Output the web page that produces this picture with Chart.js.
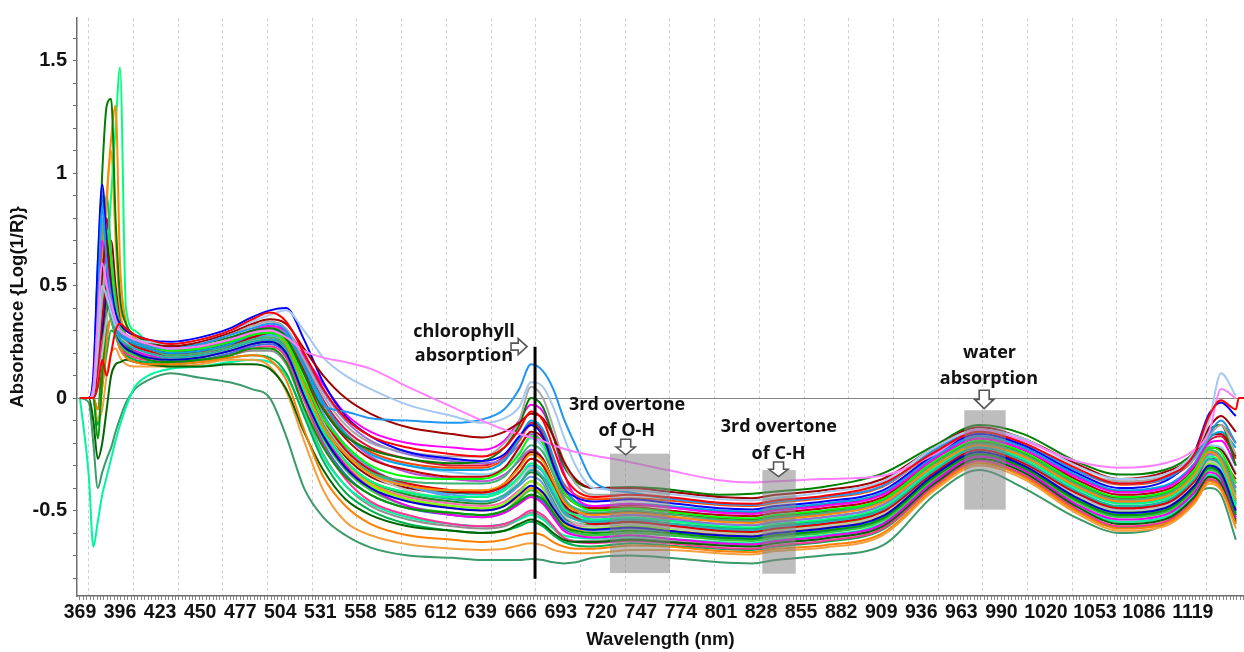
<!DOCTYPE html>
<html><head><meta charset="utf-8">
<script src="https://cdn.jsdelivr.net/npm/chart.js"></script>
<style>html,body{margin:0;padding:0;background:#fff;}canvas{display:block;}</style>
</head><body>
<canvas id="chart" width="1244" height="652" style="width:1244px;height:652px"></canvas>
<script>
// ---------- DATA ----------
const WAVELENGTHS = [369, 375, 378, 381, 384, 387, 390, 393, 396, 400, 406,
  415, 430, 450, 470, 485, 497, 508, 520, 533, 548, 565, 590, 620, 640, 655, 665, 673, 681, 688, 695, 703,
  715, 740, 765, 800, 822, 838, 870, 910, 945, 975, 1005, 1040, 1070, 1100, 1120, 1130, 1138, 1148, 1150, 1154];

const X_TICK_LABELS = [369, 396, 423, 450, 477, 504, 531, 558, 585, 612, 639, 666, 693, 720, 747,
  774, 801, 828, 855, 882, 909, 936, 963, 990, 1020, 1053, 1086, 1119];
const Y_TICK_LABELS = [-0.5, 0, 0.5, 1, 1.5];

const RED = [0, 0, 0, 0.05, 0.17, 0.10, 0.20, 0.30, 0.33, 0.31, 0.28,
  0.26, 0.24, 0.26, 0.30, 0.35, 0.38, 0.34, 0.20, 0.04, -0.09, -0.17, -0.22, -0.25, -0.26, -0.22, -0.14, -0.06, -0.10, -0.22, -0.34, -0.41,
  -0.44, -0.43, -0.44, -0.465, -0.47, -0.455, -0.435, -0.38, -0.24, -0.15, -0.20, -0.31, -0.38, -0.35, -0.25, -0.08, -0.01, -0.05, 0, 0];
const PINK = [0, 0, 0.05, 0.35, 0.60, 0.50, 0.42, 0.35, 0.30, 0.28, 0.26,
  0.24, 0.22, 0.23, 0.26, 0.29, 0.30, 0.27, 0.21, 0.18, 0.16, 0.13, 0.05, -0.04, -0.10, -0.14, -0.16, -0.175, -0.19, -0.21, -0.225, -0.24,
  -0.255, -0.285, -0.32, -0.365, -0.375, -0.37, -0.36, -0.345, -0.25, -0.14, -0.19, -0.28, -0.31, -0.29, -0.23, -0.15, 0.04, 0.0];
const LIGHTBLUE = [0, 0, 0.02, 0.25, 0.50, 0.45, 0.38, 0.32, 0.30, 0.28, 0.26,
  0.25, 0.24, 0.26, 0.30, 0.34, 0.37, 0.39, 0.30, 0.18, 0.10, 0.04, -0.03, -0.08, -0.11, -0.09, -0.04, 0.07, 0.05, -0.04, -0.17, -0.30,
  -0.40, -0.41, -0.425, -0.45, -0.455, -0.445, -0.42, -0.37, -0.22, -0.14, -0.18, -0.30, -0.36, -0.34, -0.24, -0.10, 0.11, 0.01];
const DODGERBLUE = [0, 0, 0.0, 0.40, 0.85, 0.60, 0.45, 0.34, 0.30, 0.27, 0.25,
  0.23, 0.22, 0.24, 0.28, 0.31, 0.33, 0.30, 0.14, -0.03, -0.06, -0.09, -0.10, -0.11, -0.095, -0.05, 0.04, 0.15, 0.12, 0.04, -0.09, -0.21,
  -0.37, -0.42, -0.445, -0.47, -0.475, -0.46, -0.44, -0.39, -0.23, -0.15, -0.20, -0.32, -0.38, -0.36, -0.26, -0.16, -0.10, -0.20];
const DARKRED = [0, 0, 0.03, 0.30, 0.55, 0.70, 0.45, 0.35, 0.30, 0.28, 0.26,
  0.24, 0.23, 0.25, 0.29, 0.33, 0.35, 0.33, 0.22, 0.10, 0.00, -0.07, -0.13, -0.16, -0.175, -0.15, -0.11, -0.07, -0.09, -0.17, -0.28, -0.36,
  -0.40, -0.40, -0.415, -0.44, -0.445, -0.43, -0.41, -0.36, -0.22, -0.13, -0.18, -0.29, -0.36, -0.33, -0.25, -0.13, -0.08, -0.15];
const BLUE = [0, 0, 0.10, 0.60, 0.95, 0.70, 0.50, 0.38, 0.33, 0.30, 0.28,
  0.26, 0.25, 0.27, 0.31, 0.36, 0.39, 0.40, 0.26, 0.07, -0.08, -0.17, -0.24, -0.27, -0.28, -0.25, -0.17, -0.12, -0.17, -0.30, -0.40, -0.44,
  -0.46, -0.45, -0.465, -0.49, -0.495, -0.48, -0.46, -0.41, -0.25, -0.16, -0.21, -0.33, -0.40, -0.37, -0.24, -0.07, -0.02, -0.08];
const GRAY = [0, 0, 0.02, 0.20, 0.45, 0.60, 0.50, 0.36, 0.30, 0.27, 0.25,
  0.24, 0.22, 0.24, 0.28, 0.32, 0.34, 0.31, 0.17, 0.01, -0.12, -0.20, -0.24, -0.26, -0.26, -0.20, -0.10, 0.05, 0.00, -0.13, -0.28, -0.38,
  -0.43, -0.43, -0.445, -0.47, -0.475, -0.46, -0.44, -0.39, -0.24, -0.15, -0.20, -0.32, -0.37, -0.35, -0.27, -0.17, -0.12, -0.25];
const GREEN = [0, 0, 0.05, 0.50, 1.00, 1.30, 1.33, 0.80, 0.45, 0.33, 0.28,
  0.25, 0.23, 0.24, 0.27, 0.30, 0.31, 0.27, 0.11, -0.05, -0.17, -0.23, -0.27, -0.29, -0.28, -0.22, -0.12, 0.00, -0.04, -0.17, -0.30, -0.37,
  -0.40, -0.395, -0.405, -0.43, -0.425, -0.415, -0.395, -0.335, -0.21, -0.12, -0.16, -0.28, -0.34, -0.32, -0.24, -0.14, -0.12, -0.30];
const MAGENTA = [0, 0, 0.05, 0.40, 0.70, 0.55, 0.42, 0.34, 0.30, 0.28, 0.26,
  0.24, 0.22, 0.23, 0.26, 0.30, 0.32, 0.30, 0.19, 0.06, -0.07, -0.15, -0.20, -0.22, -0.23, -0.19, -0.10, -0.03, -0.06, -0.17, -0.33, -0.44,
  -0.48, -0.47, -0.485, -0.51, -0.515, -0.50, -0.48, -0.43, -0.27, -0.18, -0.23, -0.35, -0.42, -0.40, -0.30, -0.20, -0.19, -0.30];
const LIME = [0, 0, 0.02, 0.25, 0.50, 0.75, 0.60, 0.40, 0.32, 0.28, 0.25,
  0.23, 0.21, 0.22, 0.25, 0.28, 0.29, 0.25, 0.08, -0.09, -0.21, -0.30, -0.35, -0.36, -0.36, -0.32, -0.25, -0.17, -0.20, -0.31, -0.42, -0.47,
  -0.50, -0.49, -0.505, -0.53, -0.535, -0.52, -0.50, -0.45, -0.28, -0.19, -0.24, -0.37, -0.44, -0.42, -0.32, -0.22, -0.24, -0.38];
const ORANGE = [0, 0, 0.02, 0.30, 0.60, 0.90, 1.15, 1.30, 0.60, 0.34, 0.27,
  0.24, 0.22, 0.23, 0.26, 0.29, 0.30, 0.24, 0.06, -0.13, -0.25, -0.34, -0.39, -0.41, -0.41, -0.38, -0.31, -0.25, -0.28, -0.37, -0.46, -0.50,
  -0.52, -0.51, -0.525, -0.55, -0.555, -0.54, -0.52, -0.465, -0.30, -0.21, -0.26, -0.39, -0.46, -0.44, -0.34, -0.24, -0.28, -0.45];
const DEEPSKYBLUE = [0, 0, 0.10, 0.55, 0.90, 0.60, 0.40, 0.32, 0.28, 0.26, 0.24,
  0.22, 0.20, 0.21, 0.24, 0.28, 0.30, 0.28, 0.15, -0.02, -0.16, -0.25, -0.30, -0.32, -0.32, -0.28, -0.18, -0.10, -0.14, -0.26, -0.39, -0.46,
  -0.48, -0.47, -0.48, -0.50, -0.505, -0.49, -0.47, -0.42, -0.26, -0.17, -0.22, -0.34, -0.41, -0.39, -0.29, -0.18, -0.15, -0.22];
const DARKRED2 = [0, 0, 0.0, 0.15, 0.35, 0.50, 0.45, 0.36, 0.30, 0.27, 0.24,
  0.22, 0.20, 0.21, 0.24, 0.27, 0.29, 0.26, 0.12, -0.05, -0.18, -0.27, -0.32, -0.35, -0.35, -0.31, -0.22, -0.15, -0.18, -0.30, -0.42, -0.47,
  -0.49, -0.485, -0.50, -0.52, -0.525, -0.51, -0.49, -0.44, -0.27, -0.18, -0.23, -0.36, -0.43, -0.41, -0.31, -0.17, -0.16, -0.26];
const SEAGREEN = [0, 0, 0.03, 0.35, 0.70, 0.90, 0.65, 0.45, 0.33, 0.28, 0.24,
  0.22, 0.19, 0.20, 0.23, 0.26, 0.27, 0.23, 0.06, -0.12, -0.25, -0.33, -0.37, -0.38, -0.38, -0.35, -0.27, -0.21, -0.24, -0.34, -0.45, -0.49,
  -0.51, -0.50, -0.515, -0.54, -0.545, -0.53, -0.51, -0.455, -0.29, -0.20, -0.25, -0.38, -0.45, -0.43, -0.33, -0.23, -0.26, -0.42];
const PURPLE = [0, 0, 0.02, 0.20, 0.45, 0.55, 0.45, 0.35, 0.30, 0.27, 0.25,
  0.23, 0.21, 0.22, 0.25, 0.29, 0.31, 0.29, 0.18, 0.03, -0.10, -0.19, -0.25, -0.28, -0.29, -0.27, -0.21, -0.16, -0.20, -0.31, -0.44, -0.50,
  -0.53, -0.52, -0.535, -0.56, -0.565, -0.55, -0.53, -0.475, -0.30, -0.21, -0.26, -0.39, -0.46, -0.44, -0.34, -0.25, -0.27, -0.40];
const SPRINGGREEN = [0, 0, 0.02, 0.20, 0.40, 0.60, 0.90, 1.20, 1.47, 0.40, 0.30,
  0.25, 0.22, 0.22, 0.25, 0.28, 0.29, 0.24, 0.04, -0.15, -0.28, -0.37, -0.42, -0.44, -0.44, -0.41, -0.35, -0.29, -0.32, -0.40, -0.49, -0.52,
  -0.54, -0.53, -0.545, -0.57, -0.575, -0.56, -0.54, -0.485, -0.31, -0.21, -0.27, -0.40, -0.47, -0.45, -0.35, -0.26, -0.29, -0.48];
const TEAL = [0, 0, 0.05, 0.40, 0.65, 0.50, 0.38, 0.30, 0.26, 0.24, 0.22,
  0.20, 0.18, 0.19, 0.22, 0.25, 0.26, 0.22, 0.04, -0.14, -0.28, -0.37, -0.42, -0.45, -0.46, -0.43, -0.38, -0.32, -0.35, -0.43, -0.51, -0.54,
  -0.55, -0.54, -0.555, -0.58, -0.585, -0.57, -0.55, -0.495, -0.32, -0.22, -0.28, -0.41, -0.48, -0.46, -0.36, -0.27, -0.30, -0.47];
const BLUE2 = [0, 0, 0.05, 0.20, 0.30, 0.45, 0.38, 0.30, 0.25, 0.22, 0.20,
  0.18, 0.17, 0.18, 0.21, 0.24, 0.25, 0.20, 0.01, -0.17, -0.31, -0.40, -0.46, -0.49, -0.50, -0.48, -0.43, -0.39, -0.42, -0.49, -0.55, -0.575,
  -0.585, -0.575, -0.59, -0.61, -0.615, -0.60, -0.58, -0.525, -0.34, -0.24, -0.30, -0.44, -0.51, -0.49, -0.39, -0.30, -0.33, -0.50];
const RED2 = [0, 0, 0.03, 0.35, 0.60, 0.80, 0.55, 0.38, 0.30, 0.26, 0.23,
  0.21, 0.19, 0.20, 0.23, 0.27, 0.29, 0.26, 0.11, -0.09, -0.23, -0.32, -0.38, -0.41, -0.42, -0.39, -0.33, -0.27, -0.30, -0.39, -0.49, -0.53,
  -0.56, -0.55, -0.565, -0.59, -0.595, -0.58, -0.56, -0.505, -0.33, -0.23, -0.29, -0.42, -0.49, -0.47, -0.37, -0.27, -0.28, -0.36];
const GRAY2 = [0, 0, 0.0, 0.05, 0.20, 0.35, 0.40, 0.34, 0.28, 0.25, 0.22,
  0.20, 0.18, 0.19, 0.22, 0.25, 0.27, 0.24, 0.09, -0.10, -0.24, -0.34, -0.41, -0.45, -0.46, -0.43, -0.36, -0.31, -0.35, -0.44, -0.52, -0.555,
  -0.57, -0.56, -0.575, -0.60, -0.605, -0.59, -0.57, -0.515, -0.33, -0.23, -0.29, -0.43, -0.50, -0.48, -0.38, -0.28, -0.31, -0.44];
const GREEN2 = [0, 0, 0.0, -0.18, 0.10, 0.35, 0.50, 0.40, 0.30, 0.24, 0.20,
  0.17, 0.16, 0.17, 0.19, 0.22, 0.22, 0.16, -0.04, -0.22, -0.35, -0.43, -0.49, -0.51, -0.52, -0.50, -0.46, -0.43, -0.45, -0.51, -0.57, -0.59,
  -0.60, -0.59, -0.60, -0.62, -0.625, -0.61, -0.59, -0.535, -0.35, -0.25, -0.31, -0.45, -0.52, -0.50, -0.40, -0.31, -0.34, -0.52];
const MAGENTA2 = [0, 0, 0.02, 0.15, 0.35, 0.50, 0.40, 0.32, 0.26, 0.23, 0.21,
  0.19, 0.18, 0.19, 0.21, 0.24, 0.26, 0.22, 0.04, -0.16, -0.30, -0.40, -0.48, -0.52, -0.53, -0.51, -0.47, -0.44, -0.47, -0.53, -0.59, -0.61,
  -0.62, -0.61, -0.625, -0.645, -0.65, -0.635, -0.615, -0.56, -0.37, -0.26, -0.32, -0.47, -0.54, -0.52, -0.42, -0.33, -0.36, -0.53];
const LIME2 = [0, 0, 0.05, 0.30, 0.55, 0.45, 0.35, 0.28, 0.24, 0.21, 0.19,
  0.18, 0.17, 0.18, 0.21, 0.24, 0.25, 0.20, 0.01, -0.18, -0.32, -0.41, -0.48, -0.51, -0.52, -0.50, -0.45, -0.41, -0.44, -0.51, -0.57, -0.60,
  -0.61, -0.60, -0.61, -0.63, -0.635, -0.62, -0.60, -0.545, -0.36, -0.26, -0.32, -0.46, -0.53, -0.51, -0.41, -0.32, -0.35, -0.50];
const ORANGE2 = [0, 0, 0.0, -0.05, 0.05, 0.25, 0.35, 0.30, 0.22, 0.18, 0.16,
  0.15, 0.15, 0.16, 0.18, 0.19, 0.17, 0.08, -0.14, -0.35, -0.48, -0.56, -0.61, -0.63, -0.64, -0.63, -0.61, -0.60, -0.61, -0.64, -0.66, -0.67,
  -0.67, -0.655, -0.66, -0.68, -0.685, -0.67, -0.655, -0.60, -0.40, -0.29, -0.35, -0.50, -0.58, -0.56, -0.46, -0.37, -0.40, -0.56];
const SKYBLUE = [0, 0, 0.05, 0.50, 0.80, 0.55, 0.40, 0.30, 0.26, 0.23, 0.21,
  0.19, 0.18, 0.19, 0.22, 0.26, 0.28, 0.25, 0.10, -0.08, -0.22, -0.32, -0.39, -0.43, -0.44, -0.41, -0.35, -0.30, -0.33, -0.42, -0.50, -0.54,
  -0.555, -0.545, -0.56, -0.585, -0.59, -0.575, -0.555, -0.50, -0.32, -0.22, -0.28, -0.42, -0.49, -0.47, -0.37, -0.27, -0.29, -0.40];
const DARKGREEN = [0, 0, -0.10, -0.27, -0.20, -0.05, 0.10, 0.15, 0.16, 0.17, 0.16,
  0.15, 0.14, 0.14, 0.15, 0.15, 0.13, 0.04, -0.15, -0.32, -0.45, -0.52, -0.57, -0.59, -0.60, -0.59, -0.56, -0.54, -0.56, -0.60, -0.63, -0.64,
  -0.64, -0.63, -0.64, -0.655, -0.66, -0.645, -0.625, -0.57, -0.38, -0.27, -0.33, -0.48, -0.56, -0.54, -0.44, -0.35, -0.38, -0.55];
const HOTPINK = [0, 0, 0.02, 0.10, 0.30, 0.40, 0.35, 0.28, 0.22, 0.20, 0.18,
  0.17, 0.16, 0.17, 0.19, 0.22, 0.23, 0.18, -0.01, -0.21, -0.36, -0.46, -0.52, -0.56, -0.57, -0.56, -0.53, -0.50, -0.52, -0.57, -0.62, -0.64,
  -0.645, -0.635, -0.645, -0.665, -0.67, -0.655, -0.635, -0.58, -0.39, -0.28, -0.34, -0.49, -0.57, -0.55, -0.45, -0.36, -0.39, -0.54];
const CORNFLOWER = [0, 0, 0.02, 0.30, 0.60, 0.70, 0.50, 0.35, 0.28, 0.24, 0.22,
  0.20, 0.19, 0.20, 0.23, 0.26, 0.28, 0.25, 0.11, -0.07, -0.21, -0.31, -0.39, -0.44, -0.46, -0.44, -0.39, -0.35, -0.38, -0.47, -0.54, -0.575,
  -0.59, -0.58, -0.595, -0.615, -0.62, -0.605, -0.585, -0.53, -0.345, -0.245, -0.305, -0.445, -0.515, -0.495, -0.395, -0.30, -0.32, -0.45];
const ORANGE3 = [0, 0, 0.0, -0.10, -0.05, 0.10, 0.20, 0.22, 0.18, 0.15, 0.14,
  0.14, 0.14, 0.15, 0.17, 0.17, 0.14, 0.03, -0.19, -0.41, -0.55, -0.61, -0.65, -0.67, -0.675, -0.67, -0.655, -0.645, -0.655, -0.675, -0.685, -0.69,
  -0.69, -0.675, -0.675, -0.69, -0.695, -0.68, -0.665, -0.61, -0.41, -0.30, -0.36, -0.51, -0.59, -0.57, -0.47, -0.38, -0.41, -0.58];
const GREEN3 = [0, 0, 0.0, -0.12, 0.05, 0.20, 0.30, 0.28, 0.22, 0.19, 0.17,
  0.16, 0.15, 0.16, 0.18, 0.19, 0.18, 0.11, -0.08, -0.28, -0.42, -0.50, -0.56, -0.59, -0.60, -0.59, -0.57, -0.55, -0.57, -0.61, -0.64, -0.655,
  -0.66, -0.645, -0.655, -0.67, -0.675, -0.66, -0.64, -0.585, -0.39, -0.28, -0.345, -0.495, -0.575, -0.555, -0.455, -0.365, -0.395, -0.56];
const SPRINGGREEN_LOW = [0, -0.35, -0.66, -0.55, -0.43, -0.35, -0.27, -0.19, -0.12, -0.04, 0.05,
  0.10, 0.13, 0.14, 0.16, 0.17, 0.16, 0.10, -0.07, -0.26, -0.39, -0.47, -0.53, -0.56, -0.57, -0.56, -0.54, -0.52, -0.54, -0.58, -0.61, -0.62,
  -0.625, -0.615, -0.625, -0.64, -0.645, -0.63, -0.61, -0.555, -0.365, -0.265, -0.33, -0.475, -0.55, -0.53, -0.43, -0.34, -0.37, -0.52];
const SEAGREEN_LOW = [0, -0.02, -0.20, -0.40, -0.33, -0.27, -0.22, -0.15, -0.09, -0.02, 0.04,
  0.08, 0.11, 0.09, 0.07, 0.04, 0.00, -0.17, -0.40, -0.53, -0.61, -0.665, -0.70, -0.71, -0.72, -0.72, -0.72, -0.715, -0.72, -0.73, -0.735, -0.73,
  -0.71, -0.70, -0.71, -0.73, -0.735, -0.72, -0.70, -0.655, -0.43, -0.32, -0.40, -0.53, -0.60, -0.56, -0.43, -0.40, -0.43, -0.63];
const ORANGERED = [0, 0, 0.03, 0.45, 0.80, 0.60, 0.45, 0.35, 0.30, 0.27, 0.25,
  0.23, 0.21, 0.22, 0.26, 0.30, 0.32, 0.29, 0.13, -0.04, -0.16, -0.24, -0.29, -0.31, -0.31, -0.27, -0.19, -0.12, -0.16, -0.28, -0.38, -0.43,
  -0.45, -0.445, -0.455, -0.475, -0.48, -0.465, -0.445, -0.395, -0.24, -0.155, -0.205, -0.32, -0.385, -0.36, -0.27, -0.15, -0.12, -0.20];
const DARKRED3 = [0, 0, 0.0, 0.10, 0.30, 0.55, 0.70, 0.50, 0.34, 0.28, 0.24,
  0.22, 0.20, 0.21, 0.24, 0.27, 0.28, 0.24, 0.07, -0.12, -0.26, -0.35, -0.40, -0.42, -0.42, -0.38, -0.30, -0.24, -0.27, -0.37, -0.47, -0.51,
  -0.515, -0.505, -0.515, -0.535, -0.54, -0.525, -0.505, -0.45, -0.285, -0.195, -0.245, -0.375, -0.445, -0.425, -0.325, -0.22, -0.23, -0.34];
const TURQUOISE = [0, 0, 0.05, 0.60, 0.90, 0.55, 0.40, 0.32, 0.27, 0.25, 0.23,
  0.21, 0.19, 0.20, 0.23, 0.26, 0.28, 0.25, 0.09, -0.10, -0.24, -0.33, -0.39, -0.42, -0.43, -0.40, -0.33, -0.27, -0.30, -0.40, -0.49, -0.53,
  -0.545, -0.535, -0.545, -0.56, -0.565, -0.55, -0.53, -0.475, -0.30, -0.205, -0.26, -0.395, -0.465, -0.445, -0.345, -0.25, -0.27, -0.43];
const LAWNGREEN = [0, 0, 0.02, 0.30, 0.55, 0.65, 0.50, 0.36, 0.28, 0.24, 0.21,
  0.19, 0.17, 0.18, 0.21, 0.24, 0.25, 0.21, 0.03, -0.16, -0.30, -0.39, -0.45, -0.48, -0.49, -0.47, -0.42, -0.37, -0.40, -0.48, -0.55, -0.575,
  -0.58, -0.57, -0.58, -0.595, -0.60, -0.585, -0.565, -0.51, -0.33, -0.235, -0.295, -0.435, -0.505, -0.485, -0.385, -0.29, -0.32, -0.47];
const ORCHID = [0, 0, 0.02, 0.20, 0.40, 0.50, 0.42, 0.34, 0.29, 0.26, 0.24,
  0.22, 0.20, 0.21, 0.24, 0.28, 0.30, 0.28, 0.15, -0.02, -0.16, -0.26, -0.33, -0.36, -0.37, -0.34, -0.28, -0.23, -0.27, -0.38, -0.48, -0.52,
  -0.53, -0.52, -0.53, -0.545, -0.55, -0.535, -0.515, -0.46, -0.29, -0.20, -0.25, -0.385, -0.455, -0.435, -0.335, -0.24, -0.26, -0.38];
const ROYALBLUE = [0, 0, 0.05, 0.35, 0.60, 0.45, 0.35, 0.28, 0.24, 0.21, 0.19,
  0.18, 0.16, 0.17, 0.20, 0.23, 0.24, 0.19, 0.00, -0.20, -0.34, -0.43, -0.49, -0.52, -0.53, -0.51, -0.47, -0.43, -0.46, -0.52, -0.58, -0.60,
  -0.61, -0.60, -0.61, -0.625, -0.63, -0.615, -0.595, -0.54, -0.355, -0.255, -0.315, -0.455, -0.525, -0.505, -0.405, -0.315, -0.345, -0.51];
const ORANGE4 = [0, 0, 0.0, 0.10, 0.40, 0.85, 1.10, 0.70, 0.40, 0.28, 0.22,
  0.19, 0.18, 0.19, 0.22, 0.25, 0.26, 0.22, 0.05, -0.15, -0.29, -0.38, -0.45, -0.49, -0.50, -0.48, -0.44, -0.40, -0.43, -0.50, -0.56, -0.585,
  -0.59, -0.58, -0.59, -0.605, -0.61, -0.595, -0.575, -0.52, -0.34, -0.24, -0.30, -0.44, -0.51, -0.49, -0.39, -0.30, -0.33, -0.49];
const FORESTGREEN = [0, 0, 0.0, -0.05, 0.20, 0.45, 0.60, 0.45, 0.32, 0.25, 0.22,
  0.20, 0.18, 0.19, 0.22, 0.25, 0.26, 0.22, 0.05, -0.14, -0.28, -0.37, -0.43, -0.46, -0.47, -0.44, -0.38, -0.33, -0.36, -0.45, -0.53, -0.555,
  -0.565, -0.555, -0.56, -0.575, -0.58, -0.565, -0.545, -0.49, -0.315, -0.22, -0.28, -0.415, -0.485, -0.465, -0.365, -0.275, -0.30, -0.46];
const CRIMSON = [0, 0, 0.02, 0.30, 0.65, 0.75, 0.50, 0.36, 0.30, 0.27, 0.25,
  0.23, 0.21, 0.22, 0.25, 0.29, 0.31, 0.29, 0.16, -0.01, -0.14, -0.22, -0.27, -0.30, -0.30, -0.26, -0.18, -0.11, -0.15, -0.28, -0.40, -0.46,
  -0.485, -0.475, -0.485, -0.505, -0.51, -0.495, -0.475, -0.425, -0.26, -0.17, -0.22, -0.345, -0.415, -0.395, -0.295, -0.19, -0.17, -0.27];
const LIGHTSKYBLUE = [0, 0, 0.05, 0.40, 0.70, 0.55, 0.40, 0.32, 0.28, 0.26, 0.24,
  0.22, 0.20, 0.21, 0.24, 0.28, 0.30, 0.28, 0.16, -0.01, -0.15, -0.24, -0.30, -0.33, -0.34, -0.31, -0.24, -0.18, -0.22, -0.33, -0.44, -0.49,
  -0.50, -0.49, -0.50, -0.52, -0.525, -0.51, -0.49, -0.44, -0.27, -0.18, -0.23, -0.36, -0.43, -0.41, -0.31, -0.21, -0.22, -0.33];
const HOTPINK2 = [0, 0, 0.02, 0.15, 0.35, 0.45, 0.40, 0.32, 0.27, 0.24, 0.21,
  0.19, 0.18, 0.19, 0.21, 0.24, 0.26, 0.23, 0.06, -0.14, -0.29, -0.38, -0.44, -0.47, -0.48, -0.46, -0.41, -0.37, -0.40, -0.48, -0.54, -0.565,
  -0.57, -0.56, -0.57, -0.585, -0.59, -0.575, -0.555, -0.50, -0.325, -0.23, -0.29, -0.425, -0.495, -0.475, -0.375, -0.28, -0.31, -0.45];
const GRAY3 = [0, 0, 0.0, 0.05, 0.15, 0.30, 0.35, 0.30, 0.24, 0.20, 0.18,
  0.17, 0.16, 0.17, 0.19, 0.21, 0.21, 0.15, -0.05, -0.25, -0.39, -0.48, -0.54, -0.57, -0.58, -0.57, -0.54, -0.51, -0.53, -0.58, -0.62, -0.635,
  -0.635, -0.625, -0.635, -0.65, -0.655, -0.64, -0.62, -0.565, -0.375, -0.27, -0.33, -0.475, -0.55, -0.53, -0.43, -0.345, -0.375, -0.54];

const SERIES = [
  { name: 'Sample 1',  values: RED },
  { name: 'Sample 2',  values: PINK },
  { name: 'Sample 3',  values: LIGHTBLUE },
  { name: 'Sample 4',  values: DODGERBLUE },
  { name: 'Sample 5',  values: DARKRED },
  { name: 'Sample 6',  values: BLUE },
  { name: 'Sample 7',  values: GRAY },
  { name: 'Sample 8',  values: GREEN },
  { name: 'Sample 9',  values: MAGENTA },
  { name: 'Sample 10', values: LIME },
  { name: 'Sample 11', values: ORANGE },
  { name: 'Sample 12', values: DEEPSKYBLUE },
  { name: 'Sample 13', values: DARKRED2 },
  { name: 'Sample 14', values: SEAGREEN },
  { name: 'Sample 15', values: PURPLE },
  { name: 'Sample 16', values: SPRINGGREEN },
  { name: 'Sample 17', values: TEAL },
  { name: 'Sample 18', values: BLUE2 },
  { name: 'Sample 19', values: RED2 },
  { name: 'Sample 20', values: GRAY2 },
  { name: 'Sample 21', values: GREEN2 },
  { name: 'Sample 22', values: MAGENTA2 },
  { name: 'Sample 23', values: LIME2 },
  { name: 'Sample 24', values: ORANGE2 },
  { name: 'Sample 25', values: SKYBLUE },
  { name: 'Sample 26', values: DARKGREEN },
  { name: 'Sample 27', values: HOTPINK },
  { name: 'Sample 28', values: CORNFLOWER },
  { name: 'Sample 29', values: ORANGE3 },
  { name: 'Sample 30', values: GREEN3 },
  { name: 'Sample 31', values: SPRINGGREEN_LOW },
  { name: 'Sample 32', values: SEAGREEN_LOW },
  { name: 'Sample 33', values: ORANGERED },
  { name: 'Sample 34', values: DARKRED3 },
  { name: 'Sample 35', values: TURQUOISE },
  { name: 'Sample 36', values: LAWNGREEN },
  { name: 'Sample 37', values: ORCHID },
  { name: 'Sample 38', values: ROYALBLUE },
  { name: 'Sample 39', values: ORANGE4 },
  { name: 'Sample 40', values: FORESTGREEN },
  { name: 'Sample 41', values: CRIMSON },
  { name: 'Sample 42', values: LIGHTSKYBLUE },
  { name: 'Sample 43', values: HOTPINK2 },
  { name: 'Sample 44', values: GRAY3 }
];

// ---------- STYLE ----------
const LINE_COLORS = ['#ff0000', '#ff80ff', '#a6c8f0', '#1e96f0', '#a00000', '#0000ff', '#a9a9a9', '#008000',
  '#ff00ff', '#00ff00', '#ff8c00', '#00a2e8', '#c00000', '#3cb371', '#9370db', '#00ff7f',
  '#20b2aa', '#0000cd', '#e00000', '#c0c0c0', '#009900', '#ee00ee', '#32cd32', '#ff7f00',
  '#48a8f0', '#006400', '#ff3399', '#6495ed', '#f4a040', '#00b050', '#00f5a0', '#3a9a6a',
  '#ff4500', '#8b0000', '#00ced1', '#7cfc00', '#ba55d3', '#4169e1', '#ffa500', '#228b22',
  '#dc143c', '#87cefa', '#ff69b4', '#909090'];

const X_MIN = 367, X_MAX = 1153.5, Y_MIN = -0.88, Y_MAX = 1.69;

// annotation positions in data units
const CHL_MARKER = { nm: 675.7, top: 0.228, bottom: -0.803 };
const SHADED_BANDS = [
  { nm0: 726.2, nm1: 766.7, top: -0.247, bottom: -0.778 },
  { nm0: 828.9, nm1: 851.4, top: -0.320, bottom: -0.781 },
  { nm0: 965.0, nm1: 992.9, top: -0.054, bottom: -0.496 }
];
const NOTES = [
  { text: 'chlorophyll', nm: 627.8, y: 0.295 },
  { text: 'absorption', nm: 627.8, y: 0.186 },
  { text: '3rd overtone', nm: 737.7, y: -0.028 },
  { text: 'of O-H', nm: 737.5, y: -0.145 },
  { text: '3rd overtone', nm: 840.0, y: -0.130 },
  { text: 'of C-H', nm: 839.8, y: -0.247 },
  { text: 'water', nm: 982.0, y: 0.199 },
  { text: 'absorption', nm: 981.6, y: 0.086 }
];
const ARROWS = [
  { dir: 'right', nm0: 659.5, nm1: 670.3, y: 0.229 },
  { dir: 'down', nm: 736.8, y0: -0.183, y1: -0.252 },
  { dir: 'down', nm: 839.8, y0: -0.284, y1: -0.349 },
  { dir: 'down', nm: 978.4, y0: 0.035, y1: -0.047 }
];

// decorative tick/grid positions
const X_GRID = []; for (let k = 0; k <= 25; k++) X_GRID.push(374.9 + k * 30.13);
const X_MINOR = []; for (let v = 369; v <= X_MAX; v += 2.3) X_MINOR.push(v);
const Y_MINOR = []; for (let k = -8; k <= 16; k++) Y_MINOR.push(k / 10);

const FONT_FAMILY = '"Liberation Sans", Arial, sans-serif';

const annotationPlugin = {
  id: 'annotations',
  afterDatasetsDraw(chart) {
    const { ctx } = chart; const xs = chart.scales.x, ys = chart.scales.y;
    ctx.save();
    ctx.fillStyle = 'rgba(135,135,135,0.55)';
    for (const b of SHADED_BANDS) {
      const x0 = xs.getPixelForValue(b.nm0), x1 = xs.getPixelForValue(b.nm1);
      const y0 = ys.getPixelForValue(b.top), y1 = ys.getPixelForValue(b.bottom);
      ctx.fillRect(x0, y0, x1 - x0, y1 - y0);
    }
    ctx.lineWidth = 1.6; ctx.strokeStyle = '#555'; ctx.fillStyle = '#fff'; ctx.lineJoin = 'miter';
    for (const a of ARROWS) {
      ctx.beginPath();
      if (a.dir === 'down') {
        const cx = xs.getPixelForValue(a.nm), t = ys.getPixelForValue(a.y0), b = ys.getPixelForValue(a.y1);
        const m = t + (b - t) * 0.5;
        ctx.moveTo(cx - 5, t); ctx.lineTo(cx + 5, t); ctx.lineTo(cx + 5, m); ctx.lineTo(cx + 9.5, m);
        ctx.lineTo(cx, b); ctx.lineTo(cx - 9.5, m); ctx.lineTo(cx - 5, m); ctx.closePath();
      } else {
        const l = xs.getPixelForValue(a.nm0), r = xs.getPixelForValue(a.nm1), cy = ys.getPixelForValue(a.y);
        const m = l + (r - l) * 0.45;
        ctx.moveTo(l, cy - 3.5); ctx.lineTo(m, cy - 3.5); ctx.lineTo(m, cy - 8); ctx.lineTo(r, cy);
        ctx.lineTo(m, cy + 8); ctx.lineTo(m, cy + 3.5); ctx.lineTo(l, cy + 3.5); ctx.closePath();
      }
      ctx.fill(); ctx.stroke();
    }
    ctx.fillStyle = '#111'; ctx.font = 'bold 18px "Open Sans", "DejaVu Sans", sans-serif';
    ctx.textAlign = 'center'; ctx.textBaseline = 'middle';
    for (const n of NOTES) ctx.fillText(n.text, xs.getPixelForValue(n.nm), ys.getPixelForValue(n.y));
    ctx.restore();
  }
};

const datasets = SERIES.map((s, i) => ({
  label: s.name,
  data: s.values.map((v, j) => ({ x: WAVELENGTHS[j], y: v })),
  borderColor: LINE_COLORS[i], borderWidth: 2, pointRadius: 0, fill: false,
  cubicInterpolationMode: 'monotone', xAxisID: 'x', yAxisID: 'y'
}));
datasets.unshift({
  label: 'marker', order: -1,
  data: [{ x: CHL_MARKER.nm, y: CHL_MARKER.top }, { x: CHL_MARKER.nm, y: CHL_MARKER.bottom }],
  borderColor: '#000', borderWidth: 3, pointRadius: 0, fill: false, xAxisID: 'x', yAxisID: 'y'
});

const hiddenBottom = (ticksArr, grid, border) => ({
  type: 'linear', min: X_MIN, max: X_MAX, position: 'bottom', weight: 0,
  afterBuildTicks: s => { s.ticks = ticksArr.map(v => ({ value: v })); },
  afterFit: s => { s.height = 0; },
  ticks: { display: false, autoSkip: false },
  grid, border
});

new Chart(document.getElementById('chart'), {
  type: 'line',
  data: { datasets },
  plugins: [annotationPlugin],
  options: {
    responsive: false, animation: false, devicePixelRatio: 1, events: [],
    layout: { padding: { top: 10, right: 0, bottom: 0, left: 0 } },
    plugins: { legend: { display: false }, tooltip: { enabled: false } },
    scales: {
      x: {
        type: 'linear', min: X_MIN, max: X_MAX, position: 'bottom', weight: 5,
        afterBuildTicks: s => { s.ticks = X_TICK_LABELS.map(v => ({ value: v })); },
        afterFit: s => { s.height = 56; },
        ticks: { autoSkip: false, maxRotation: 0, minRotation: 0, padding: 5, color: '#111',
          font: { family: FONT_FAMILY, size: 19.5, weight: 'bold' }, callback: v => String(v) },
        grid: { display: true, drawOnChartArea: false, drawTicks: false },
        border: { display: true, color: '#6e6e6e', width: 1.5 },
        title: { display: true, text: 'Wavelength (nm)', color: '#111', padding: { top: 0, bottom: 1 },
          font: { family: FONT_FAMILY, size: 18.5, weight: 'bold' } }
      },
      xGrid: hiddenBottom(X_GRID,
        { display: true, drawOnChartArea: true, drawTicks: false, color: '#cfcfcf', lineWidth: 1 },
        { display: false, dash: [3, 3] }),
      xMinor: hiddenBottom(X_MINOR,
        { display: true, drawOnChartArea: false, drawTicks: true, tickLength: 4, tickColor: '#8a8a8a', lineWidth: 1 },
        { display: false }),
      y: {
        type: 'linear', min: Y_MIN, max: Y_MAX, position: 'left',
        afterBuildTicks: s => { s.ticks = Y_MINOR.map(v => ({ value: v })); },
        afterFit: s => { s.width = 77; },
        ticks: { autoSkip: false, padding: 6, color: '#111',
          font: { family: FONT_FAMILY, size: 20, weight: 'bold' },
          callback: v => {
            const r = Math.round(v * 10) / 10;
            const hit = Y_TICK_LABELS.find(t => Math.abs(t - r) < 1e-9);
            return hit === undefined ? '' : (hit === 0 ? '0' : String(hit));
          } },
        grid: { display: true, drawOnChartArea: true, drawTicks: true, tickLength: 4, tickColor: '#6e6e6e',
          color: c => (c.tick && Math.abs(c.tick.value) < 1e-9) ? '#858585' : 'rgba(0,0,0,0)', lineWidth: 1 },
        border: { display: true, color: '#6e6e6e', width: 1.5 },
        title: { display: true, text: 'Absorbance {Log(1/R)}', color: '#111', padding: { top: 7, bottom: 0 },
          font: { family: FONT_FAMILY, size: 18.5, weight: 'bold' } }
      }
    }
  }
});
</script>
</body></html>
